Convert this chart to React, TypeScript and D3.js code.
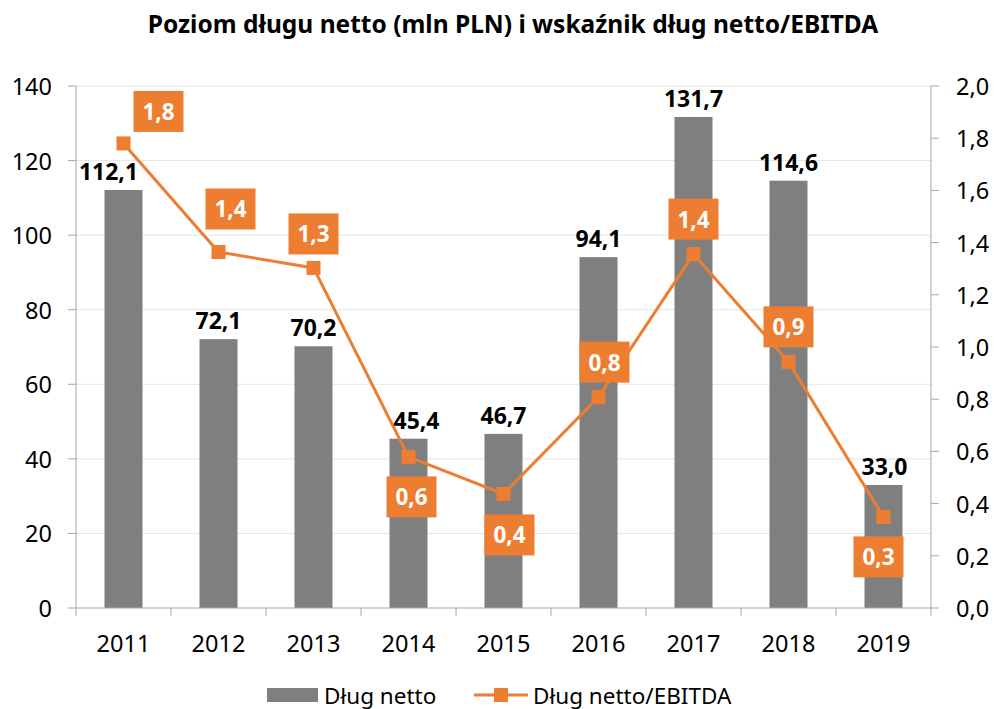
import React from "react";
import * as d3 from "d3";

const years = ["2011", "2012", "2013", "2014", "2015", "2016", "2017", "2018", "2019"];
const debt = [112.1, 72.1, 70.2, 45.4, 46.7, 94.1, 131.7, 114.6, 33.0];
const ratio = [1.78, 1.364, 1.303, 0.579, 0.437, 0.808, 1.356, 0.943, 0.349];
const leftTicks = [0, 20, 40, 60, 80, 100, 120, 140];
const rightTicks = [0, 0.2, 0.4, 0.6, 0.8, 1.0, 1.2, 1.4, 1.6, 1.8, 2.0];
// label box offset relative to its point (layout)
const labelOffsets: [number, number][] = [
  [35, -32], [12, -43], [0, -34], [3, 40], [6, 41], [6, -35], [0, -35], [0, -35], [-5, 40],
];
// horizontal nudges of bar value labels (layout)
const barLabelDx = [-15, 0, 0, 8, 0, 0, 0, 0, 1];

const W = 994, H = 709;
const left = 76, right = 931, top = 86, bottom = 608;
const ORANGE = "#ED7D31";
const GRAY = "#7F7F7F";
const FONT = "'Noto Sans', sans-serif";
const fmt1 = (v: number) => d3.format(".1f")(v).replace(".", ",");

export default function App() {
  const x = d3.scaleBand<string>().domain(years).range([left, right]).paddingInner(0.6).paddingOuter(0.3);
  const y = d3.scaleLinear().domain([0, 140]).range([bottom, top]);
  const y2 = d3.scaleLinear().domain([0, 2]).range([bottom, top]);
  const step = x.step();
  const cx = (yr: string) => (x(yr) as number) + x.bandwidth() / 2;
  const line = d3.line<number>().x((_, i) => cx(years[i])).y((d) => y2(d));
  const boundaries = d3.range(years.length + 1).map((i) => left + i * step);

  return (
    <div style={{ position: "absolute", left: 0, top: 0 }}>
      <svg width={W} height={H} style={{ display: "block", fontFamily: FONT }}>
        <rect width={W} height={H} fill="#fff" />
        <text x={513} y={33} textAnchor="middle" fontWeight="bold" fontSize={24.5} fill="#000">
          Poziom długu netto (mln PLN) i wskaźnik dług netto/EBITDA
        </text>
        {leftTicks.filter((t) => t > 0).map((t) => (
          <line key={"g" + t} x1={left} x2={right} y1={y(t)} y2={y(t)} stroke="#E6E6E6" strokeWidth={1} />
        ))}
        {debt.map((v, i) => (
          <rect key={"b" + i} x={x(years[i])} y={y(v)} width={x.bandwidth()} height={y(0) - y(v)} fill={GRAY} />
        ))}
        {/* axes */}
        <line x1={left} x2={left} y1={top} y2={bottom} stroke="#A6A6A6" />
        <line x1={right} x2={right} y1={top} y2={bottom} stroke="#A6A6A6" />
        <line x1={left} x2={right} y1={bottom} y2={bottom} stroke="#A6A6A6" />
        {leftTicks.map((t) => (
          <g key={"lt" + t}>
            <line x1={left - 8} x2={left} y1={y(t)} y2={y(t)} stroke="#A6A6A6" />
            <text x={52} y={y(t)} textAnchor="end" dominantBaseline="central" fontSize={23.5} fill="#000">{t}</text>
          </g>
        ))}
        {rightTicks.map((t) => (
          <g key={"rt" + t}>
            <line x1={right} x2={right + 8} y1={y2(t)} y2={y2(t)} stroke="#A6A6A6" />
            <text x={956} y={y2(t)} textAnchor="start" dominantBaseline="central" fontSize={23.5} fill="#000">{fmt1(t)}</text>
          </g>
        ))}
        {boundaries.map((bx, i) => (
          <line key={"xt" + i} x1={bx} x2={bx} y1={bottom} y2={bottom + 8} stroke="#A6A6A6" />
        ))}
        {years.map((yr) => (
          <text key={"xl" + yr} x={cx(yr)} y={652} textAnchor="middle" fontSize={23.5} fill="#000">{yr}</text>
        ))}
        <path d={line(ratio) as string} fill="none" stroke={ORANGE} strokeWidth={3} />
        {ratio.map((v, i) => (
          <rect key={"m" + i} x={cx(years[i]) - 7} y={y2(v) - 7} width={14} height={14} fill={ORANGE} />
        ))}
        {debt.map((v, i) => (
          <text key={"bl" + i} x={cx(years[i]) + barLabelDx[i]} y={y(v) - 19} textAnchor="middle" dominantBaseline="central" fontWeight="bold" fontSize={23} fill="#000">
            {fmt1(v)}
          </text>
        ))}
        {ratio.map((v, i) => {
          const px = cx(years[i]) + labelOffsets[i][0];
          const py = y2(v) + labelOffsets[i][1];
          return (
            <g key={"rl" + i}>
              <rect x={px - 25} y={py - 20.5} width={50} height={41} fill={ORANGE} />
              <text x={px} y={py} textAnchor="middle" dominantBaseline="central" fontWeight="bold" fontSize={22.5} fill="#fff">
                {fmt1(v)}
              </text>
            </g>
          );
        })}
        {/* legend */}
        <rect x={267} y={688} width={51} height={14} fill={GRAY} />
        <text x={324} y={695} dominantBaseline="central" fontSize={22.5} fill="#000">Dług netto</text>
        <line x1={474} x2={528} y1={695} y2={695} stroke={ORANGE} strokeWidth={3} />
        <rect x={494} y={688} width={14} height={14} fill={ORANGE} />
        <text x={533} y={695} dominantBaseline="central" fontSize={22.5} fill="#000">Dług netto/EBITDA</text>
      </svg>
    </div>
  );
}
